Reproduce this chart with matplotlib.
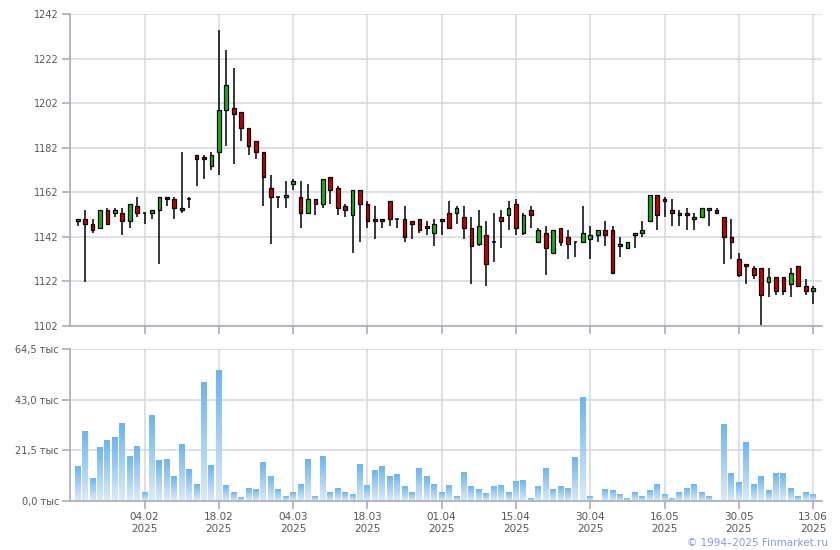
"""
Finmarket-style candlestick chart with volume panel (22.01.2025 - 13.06.2025)
"""

import matplotlib
matplotlib.use('Agg')
import matplotlib.pyplot as plt
from matplotlib.patches import Rectangle
from matplotlib.colors import LinearSegmentedColormap
import numpy as np

# OHLC per trading day (index 0 = 22.01.2025, index 99 = 13.06.2025)
opens = [1149.1, 1150.0, 1147.8, 1146.0, 1154.1, 1152.7, 1152.7, 1149.1, 1155.8, 1152.7,
         1152.7, 1154.1, 1159.9, 1159.0, 1154.1, 1159.0, 1178.7, 1177.8, 1173.8, 1180.1,
         1198.9, 1199.8, 1198.0, 1190.8, 1185.0, 1180.1, 1163.9, 1159.9, 1159.9, 1165.7,
         1159.9, 1152.7, 1159.0, 1156.7, 1168.9, 1163.9, 1155.8, 1151.8, 1163.0, 1156.7,
         1150.0, 1150.0, 1158.1, 1150.0, 1150.0, 1149.1, 1150.0, 1146.9, 1143.7, 1150.2,
         1152.7, 1152.7, 1151.0, 1146.0, 1138.9, 1142.9, 1139.8, 1151.0, 1151.9, 1156.8,
         1143.8, 1154.1, 1139.8, 1143.8, 1134.8, 1146.0, 1142.0, 1139.8, 1139.8, 1141.1,
         1142.9, 1145.1, 1145.1, 1138.9, 1137.1, 1142.9, 1143.8, 1149.2, 1160.8, 1159.0,
         1154.1, 1151.9, 1152.7, 1150.1, 1151.0, 1154.1, 1154.1, 1151.0, 1142.0, 1132.0,
         1129.9, 1128.1, 1128.1, 1121.9, 1124.1, 1124.1, 1121.0, 1129.0, 1120.1, 1117.8]
highs = [1150.2, 1153.9, 1150.0, 1154.1, 1155.0, 1155.0, 1155.0, 1156.7, 1159.9, 1152.7,
         1154.1, 1159.9, 1159.9, 1159.9, 1180.1, 1159.9, 1178.7, 1178.7, 1180.1, 1234.7,
         1225.8, 1217.8, 1198.0, 1190.8, 1185.0, 1180.1, 1169.8, 1159.9, 1167.1, 1168.0,
         1167.1, 1165.7, 1159.0, 1168.0, 1168.9, 1164.8, 1156.7, 1163.0, 1163.0, 1158.1,
         1155.8, 1150.0, 1158.1, 1150.0, 1155.8, 1149.1, 1150.0, 1149.1, 1150.0, 1150.2,
         1158.1, 1155.9, 1155.9, 1151.0, 1154.1, 1149.2, 1152.7, 1154.1, 1158.1, 1159.0,
         1152.7, 1155.9, 1146.0, 1146.9, 1145.1, 1146.0, 1145.1, 1139.8, 1155.9, 1146.9,
         1145.1, 1149.2, 1146.9, 1142.0, 1139.8, 1143.8, 1149.2, 1160.8, 1160.8, 1159.9,
         1159.0, 1154.1, 1155.0, 1152.7, 1155.0, 1155.0, 1155.0, 1151.0, 1150.1, 1134.8,
         1129.9, 1129.0, 1128.1, 1128.1, 1124.1, 1124.1, 1128.1, 1129.0, 1123.2, 1120.1]
lows = [1146.7, 1121.6, 1143.7, 1146.0, 1147.8, 1150.9, 1142.8, 1146.0, 1150.9, 1147.8,
        1150.0, 1129.8, 1155.8, 1150.0, 1152.7, 1155.0, 1164.8, 1168.0, 1172.0, 1169.8,
        1182.8, 1174.7, 1185.0, 1178.7, 1176.9, 1155.8, 1138.8, 1155.0, 1155.0, 1163.0,
        1146.0, 1152.7, 1151.8, 1155.0, 1156.7, 1151.8, 1150.9, 1134.8, 1139.7, 1146.0,
        1141.0, 1146.0, 1146.7, 1146.0, 1139.7, 1141.0, 1143.7, 1142.8, 1137.9, 1142.9,
        1146.0, 1147.8, 1141.1, 1121.0, 1138.0, 1120.1, 1130.8, 1137.1, 1145.1, 1142.9,
        1142.9, 1146.0, 1139.8, 1125.0, 1134.8, 1138.0, 1132.0, 1133.0, 1139.8, 1132.0,
        1139.8, 1138.0, 1125.9, 1133.0, 1137.1, 1137.1, 1142.0, 1149.2, 1145.1, 1151.0,
        1146.9, 1146.9, 1145.1, 1145.1, 1151.0, 1146.9, 1152.7, 1129.9, 1132.0, 1124.1,
        1121.0, 1123.2, 1102.4, 1115.1, 1116.0, 1116.0, 1115.1, 1120.1, 1116.0, 1112.0]
closes = [1150.0, 1147.8, 1145.1, 1154.1, 1147.8, 1154.1, 1149.1, 1156.7, 1152.7, 1152.7,
          1154.1, 1159.9, 1159.0, 1155.0, 1155.0, 1159.0, 1176.9, 1176.9, 1178.7, 1198.9,
          1210.1, 1197.1, 1190.8, 1182.8, 1180.1, 1168.9, 1159.9, 1159.9, 1160.8, 1167.1,
          1152.7, 1159.0, 1156.7, 1168.0, 1163.0, 1155.0, 1154.1, 1163.0, 1156.7, 1149.1,
          1149.1, 1149.1, 1150.0, 1150.0, 1141.9, 1147.8, 1145.1, 1146.0, 1147.8, 1149.2,
          1146.0, 1155.0, 1146.0, 1138.0, 1146.9, 1129.9, 1139.8, 1149.2, 1155.0, 1146.0,
          1151.9, 1151.9, 1145.1, 1137.1, 1145.1, 1139.8, 1138.9, 1139.8, 1143.8, 1142.9,
          1145.1, 1142.9, 1125.9, 1138.0, 1139.8, 1143.8, 1145.1, 1160.8, 1151.9, 1158.1,
          1152.7, 1152.7, 1151.9, 1151.0, 1155.0, 1155.0, 1152.7, 1142.0, 1139.8, 1125.0,
          1129.0, 1125.0, 1116.0, 1124.1, 1117.8, 1117.8, 1125.9, 1120.1, 1117.8, 1119.2]

# volume, thousands
volumes = [14.5, 29.3, 9.4, 22.5, 25.5, 26.8, 32.7, 18.7, 23.0, 3.4,
           36.1, 17.0, 17.4, 10.2, 23.8, 13.2, 7.2, 50.2, 14.9, 55.3,
           6.4, 3.8, 1.3, 5.1, 4.7, 16.2, 10.2, 4.7, 2.1, 3.4,
           7.2, 17.4, 2.1, 18.7, 3.4, 5.1, 3.8, 2.6, 15.7, 6.4,
           12.8, 14.5, 10.6, 11.1, 6.0, 3.8, 14.0, 10.6, 7.2, 3.4,
           6.4, 2.1, 11.9, 6.0, 4.7, 3.0, 6.0, 6.4, 3.4, 8.1,
           8.9, 0.9, 6.0, 14.0, 4.7, 6.0, 5.1, 18.3, 43.8, 2.1,
           0.4, 4.7, 4.3, 2.6, 0.9, 3.4, 1.7, 4.3, 7.2, 2.6,
           0.9, 3.8, 5.1, 6.8, 3.4, 2.1, 0.4, 32.3, 11.5, 7.7,
           24.7, 6.8, 10.2, 4.3, 11.5, 11.5, 5.1, 2.1, 3.4, 2.6]

tick_idx = [9, 19, 29, 39, 49, 59, 69, 79, 89, 99]
tick_labels = ['04.02\n2025', '18.02\n2025', '04.03\n2025', '18.03\n2025', '01.04\n2025',
               '15.04\n2025', '30.04\n2025', '16.05\n2025', '30.05\n2025', '13.06\n2025']
price_ticks = [1102, 1122, 1142, 1162, 1182, 1202, 1222, 1242]
vol_ticks = [0.0, 21.5, 43.0, 64.5]

GRID = '#d3d7dc'
SPINE = '#a9adb8'
LABEL = '#55565f'
UP = '#12b812'
DOWN = '#cc0000'

plt.rcParams['font.family'] = 'DejaVu Sans'

fig = plt.figure(figsize=(8.4, 5.5), dpi=100)
ax_p = fig.add_axes([70 / 840, 1 - 326 / 550, 752 / 840, 312 / 550])
ax_v = fig.add_axes([70 / 840, 1 - 501 / 550, 752 / 840, 152 / 550])

x = np.arange(len(opens))
xlim = (-1.03, 100.2)


def style_axis(ax):
    for s in ['top', 'right']:
        ax.spines[s].set_visible(False)
    for s in ['left', 'bottom']:
        ax.spines[s].set_color(SPINE)
        ax.spines[s].set_linewidth(1.2)
    ax.set_xlim(*xlim)
    ax.set_xticks(tick_idx)
    ax.grid(True, color=GRID, linewidth=1.1)
    ax.set_axisbelow(True)
    ax.tick_params(axis='both', color=SPINE, length=6, width=1.2,
                   labelsize=7, labelcolor=LABEL, pad=2)


# candles
style_axis(ax_p)
body_w = 0.5
for i in x:
    o, h, l, c = opens[i], highs[i], lows[i], closes[i]
    ax_p.vlines(i, l, h, color='black', linewidth=1.1, zorder=2)
    lo, hi = min(o, c), max(o, c)
    if hi - lo < 0.3:
        ax_p.hlines(o, i - body_w / 2, i + body_w / 2, color='black', linewidth=1.1, zorder=3)
    else:
        ax_p.add_patch(Rectangle((i - body_w / 2, lo), body_w, hi - lo,
                                 facecolor=UP if c > o else DOWN,
                                 edgecolor='black', linewidth=0.9, zorder=3))
ax_p.set_ylim(1102, 1242)
ax_p.set_yticks(price_ticks)
ax_p.set_yticklabels([str(t) for t in price_ticks])
ax_p.set_xticklabels([])

# volume bars with vertical gradient
style_axis(ax_v)
cmap = LinearSegmentedColormap.from_list('vol', ['#dceaf8', '#6db5ef'])
grad = np.linspace(0, 1, 64).reshape(-1, 1)
bar_w = 0.8
for i in x:
    ax_v.imshow(grad, cmap=cmap, origin='lower', aspect='auto', interpolation='bilinear',
                extent=(i - bar_w / 2, i + bar_w / 2, 0, volumes[i]), zorder=2)
ax_v.set_xlim(*xlim)
ax_v.set_ylim(0, 64.5)
ax_v.set_yticks(vol_ticks)
ax_v.set_yticklabels([f'{t:.1f} тыс'.replace('.', ',') for t in vol_ticks])
ax_v.set_xticklabels(tick_labels, fontsize=7.5, linespacing=1.25)

fig.text(828 / 840, 1 - 543 / 550, '© 1994–2025 Finmarket.ru', ha='right', va='center',
         fontsize=7.5, color='#7f9be6')

plt.savefig('out.png', dpi=100)
plt.close()
